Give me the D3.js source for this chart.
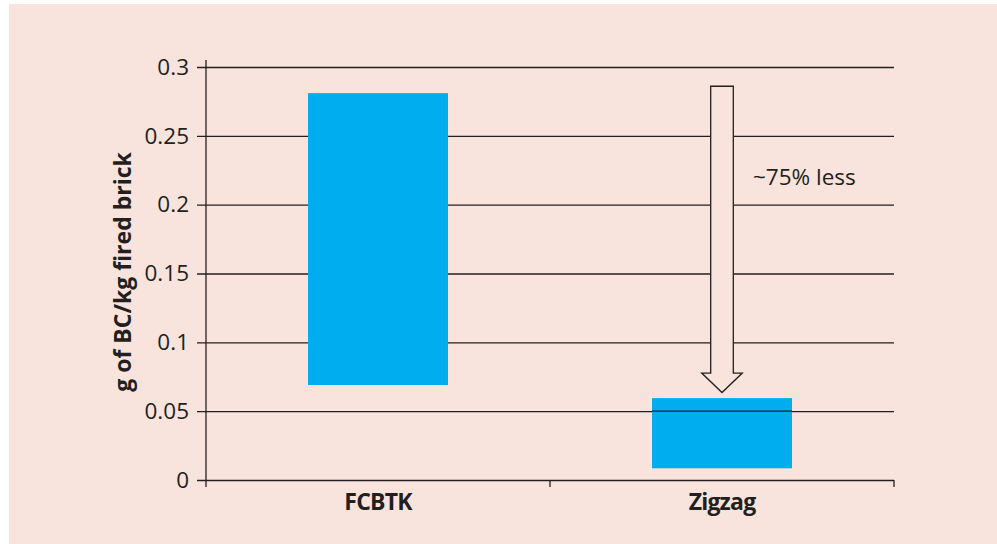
<!DOCTYPE html>
<html>
<head>
<meta charset="utf-8">
<script src="https://cdn.jsdelivr.net/npm/d3@7"></script>
<style>
  html, body { margin: 0; padding: 0; background: #ffffff; }
  svg { display: block; }
  text { font-family: "Open Sans", "Noto Sans", sans-serif; fill: #231f20; }
</style>
</head>
<body>
<script>
// ---- data ----
const categories = ["FCBTK", "Zigzag"];
const barLow  = [0.069, 0.0085];
const barHigh = [0.281, 0.0595];
const yTicks = [0, 0.05, 0.1, 0.15, 0.2, 0.25, 0.3];
const yTickLabels = ["0", "0.05", "0.1", "0.15", "0.2", "0.25", "0.3"];
const yLabel = "g of BC/kg fired brick";
const arrowFrom = 0.286;   // arrow tail value (above FCBTK)
const arrowTo = 0.0635;    // arrow tip value (above Zigzag)
const arrowCategory = "Zigzag";
const annotation = "~75% less";

// ---- layout ----
const W = 997, H = 544;
const ink = "#231f20";
const svg = d3.select("body").append("svg").attr("width", W).attr("height", H);

svg.append("rect").attr("x", 9).attr("y", 4).attr("width", W - 9).attr("height", H - 4)
  .attr("fill", "#f8e4dc");

const x = d3.scaleBand().domain(categories).range([206, 894])
  .paddingInner(0.593).paddingOuter(0.2965);
const y = d3.scaleLinear().domain([0, 0.3]).range([480, 67]);

// gridlines + y ticks + labels via axis
const yAxis = d3.axisLeft(y).tickValues(yTicks)
  .tickFormat((d, i) => yTickLabels[i]).tickSize(894 - 197).tickPadding(8);
const gy = svg.append("g").attr("transform", "translate(894,0)").call(yAxis);
gy.select(".domain").remove();
gy.selectAll(".tick line").attr("stroke", ink).attr("stroke-width", 1.3);
gy.selectAll(".tick text").attr("font-size", 22.5).attr("fill", ink)
  .attr("font-family", "'Open Sans', sans-serif");

// bars (floating ranges)
svg.append("g").selectAll("rect").data(categories).join("rect")
  .attr("x", d => x(d))
  .attr("width", x.bandwidth())
  .attr("y", (d, i) => y(barHigh[i]))
  .attr("height", (d, i) => y(barLow[i]) - y(barHigh[i]))
  .attr("fill", "#00aeef");

// gridline visible over the Zigzag bar
svg.append("g").selectAll("line").data(yTicks.filter(v => v > barLow[1] && v < barHigh[1])).join("line")
  .attr("x1", x("Zigzag")).attr("x2", x("Zigzag") + x.bandwidth())
  .attr("y1", d => y(d)).attr("y2", d => y(d))
  .attr("stroke", ink).attr("stroke-width", 1.3);

// y axis line
svg.append("line").attr("x1", 206).attr("x2", 206).attr("y1", 60).attr("y2", 487)
  .attr("stroke", ink).attr("stroke-width", 1.3);

// x axis ticks at band boundaries
const bounds = categories.map(c => x(c) + x.bandwidth() / 2 + x.step() / 2);
svg.append("g").selectAll("line").data(bounds).join("line")
  .attr("x1", d => d).attr("x2", d => d).attr("y1", y(0)).attr("y2", y(0) + 7)
  .attr("stroke", ink).attr("stroke-width", 1.3);

// x labels
const xAxis = d3.axisBottom(x).tickSize(0).tickPadding(0);
const gx = svg.append("g").attr("transform", `translate(0,${y(0)})`).call(xAxis);
gx.select(".domain").remove();
gx.selectAll(".tick text").attr("font-size", 23).attr("font-weight", "bold")
  .attr("letter-spacing", -0.8)
  .attr("fill", ink).attr("dy", null).attr("y", 30)
  .attr("font-family", "'Open Sans', sans-serif");

// y label
svg.append("text")
  .attr("transform", `translate(130.5,${272}) rotate(-90)`)
  .attr("text-anchor", "middle")
  .attr("font-size", 23).attr("font-weight", "bold")
  .text(yLabel);

// outline arrow
const cx = x(arrowCategory) + x.bandwidth() / 2;
const shaftHalf = 11.3, headHalf = 20.3, headLen = 19.5;
const yTop = y(arrowFrom), yTip = y(arrowTo);
const pts = [
  [cx - shaftHalf, yTop], [cx + shaftHalf, yTop], [cx + shaftHalf, yTip - headLen],
  [cx + headHalf, yTip - headLen], [cx, yTip], [cx - headHalf, yTip - headLen],
  [cx - shaftHalf, yTip - headLen]
];
svg.append("path").attr("d", d3.line()(pts) + "Z")
  .attr("fill", "#f8e4dc").attr("stroke", ink).attr("stroke-width", 1.3)
  .attr("stroke-linejoin", "miter");

svg.append("text").attr("x", 753).attr("y", 185).attr("font-size", 22.5).text(annotation);
</script>
</body>
</html>
